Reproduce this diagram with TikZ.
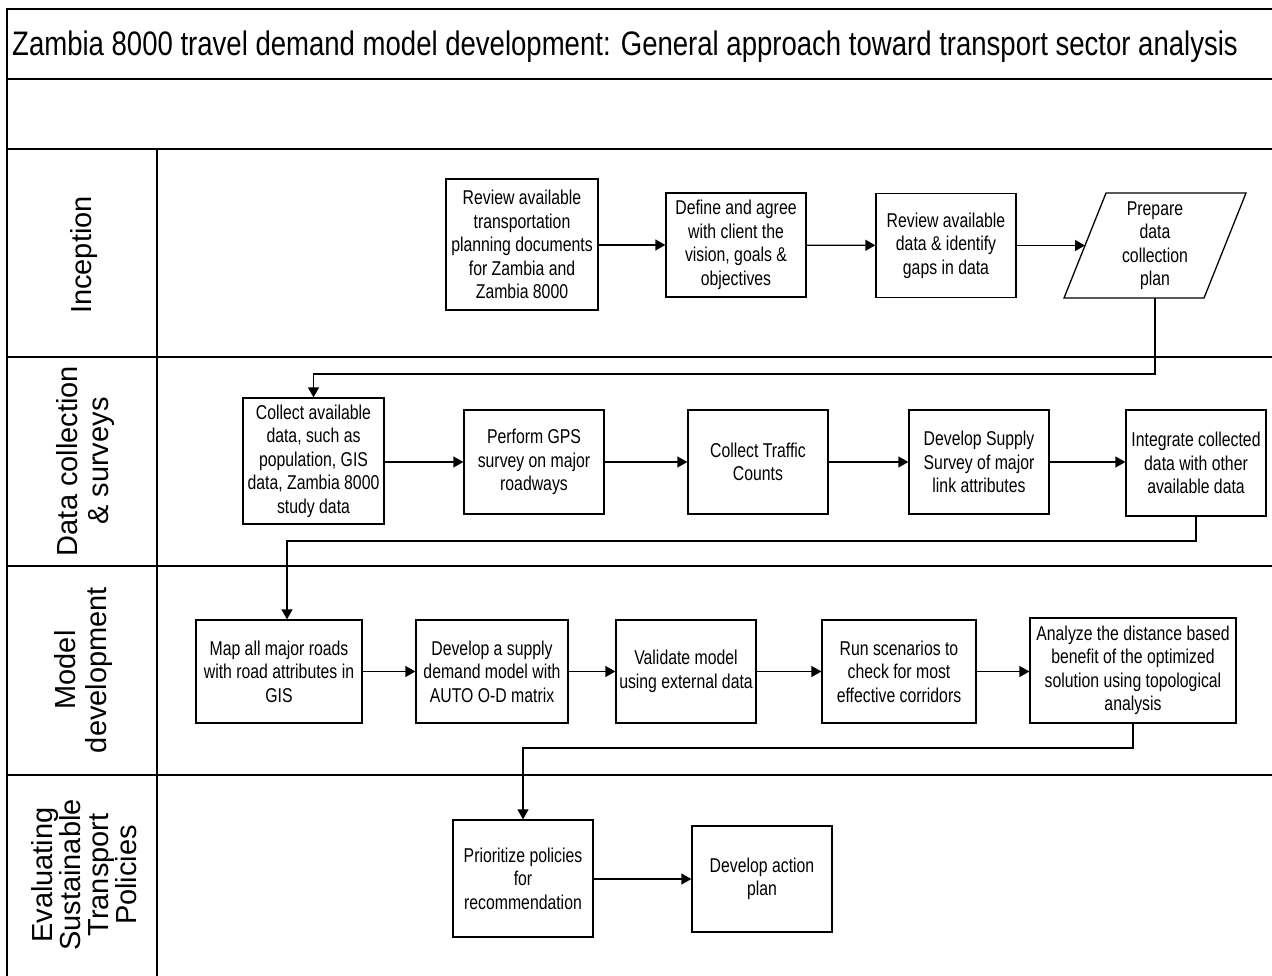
\documentclass[tikz,border=0pt]{standalone}
\usepackage{fontspec}
\setmainfont{Liberation Sans}
\newfontfamily\narrowf[FakeStretch=0.79]{Liberation Sans}
\newfontfamily\titlef[FakeStretch=0.81]{Liberation Sans}
\usetikzlibrary{arrows.meta,calc}
\tikzset{
  box/.style={draw, line width=1.3pt, align=center, inner sep=2pt,
    font=\narrowf\fontsize{20}{23.5}\selectfont},
  arr/.style={line width=1.3pt, -{Triangle[length=10pt,width=11pt]}},
  lane/.style={line width=2pt},
  lanelabel/.style={rotate=90, align=center, font=\fontsize{29}{31}\selectfont},
}
\begin{document}
\begin{tikzpicture}[x=1pt,y=-1pt]
\useasboundingbox (0,0) rectangle (1272,976);
% frame and lanes
\draw[lane] (7,990) -- (7,9) -- (1290,9);
\draw[lane] (7,79) -- (1290,79);
\draw[lane] (7,149) -- (1290,149);
\draw[lane] (7,357) -- (1290,357);
\draw[lane] (7,566) -- (1290,566);
\draw[lane] (7,775) -- (1290,775);
\draw[lane] (157,149) -- (157,990);
% title
\node[anchor=base west, inner sep=0pt, font=\titlef\fontsize{34}{36}\selectfont] (title) at (12,56)
  {Zambia 8000 travel demand model development: General approach toward transport sector analysis};
% lane labels
\node[lanelabel] (l1) at (84,255) {Inception};
\node[lanelabel] (l2) at (86,461) {Data collection\\ \& surveys};
\node[lanelabel] (l3) at (84,670) {Model\\ development};
\node[lanelabel, font=\fontsize{29}{28}\selectfont] (l4) at (84,875) {Evaluating\\ Sustainable\\ Transport\\ Policies};
% Inception
\node[box, minimum width=152, minimum height=131] (b1) at (522,244.5)
  {Review available\\ transportation\\ planning documents\\ for Zambia and\\ Zambia 8000};
\node[box, minimum width=140, minimum height=104] (b2) at (736,245)
  {Define and agree\\ with client the\\ vision, goals \&\\ objectives};
\node[box, minimum width=140, minimum height=104] (b3) at (946,245.5)
  {Review available\\ data \& identify\\ gaps in data};
\node[inner sep=0pt, minimum width=182, minimum height=105, align=center,
  font=\narrowf\fontsize{20}{23.5}\selectfont] (par) at (1155,245.5)
  {Prepare\\ data\\ collection\\ plan};
\draw[line width=1.3pt] (1106,193) -- (1246,193) -- (1204,298) -- (1064,298) -- cycle;
\coordinate (parL) at (1085,245.5);
% Data collection
\node[box, minimum width=141, minimum height=126] (c1) at (313.5,461)
  {Collect available\\ data, such as\\ population, GIS\\ data, Zambia 8000\\ study data};
\node[box, minimum width=140, minimum height=104] (c2) at (534,462)
  {Perform GPS\\ survey on major\\ roadways};
\node[box, minimum width=140, minimum height=104] (c3) at (758,462)
  {Collect Traffic\\ Counts};
\node[box, minimum width=140, minimum height=104] (c4) at (979,462)
  {Develop Supply\\ Survey of major\\ link attributes};
\node[box, minimum width=140, minimum height=106] (c5) at (1196,463)
  {Integrate collected\\ data with other\\ available data};
% Model development
\node[box, minimum width=166, minimum height=103] (m1) at (279,671.5)
  {Map all major roads\\ with road attributes in\\ GIS};
\node[box, minimum width=152, minimum height=103] (m2) at (492,671.5)
  {Develop a supply\\ demand model with\\ AUTO O-D matrix};
\node[box, minimum width=140, minimum height=103] (m3) at (686,671.5)
  {Validate model\\ using external data};
\node[box, minimum width=154, minimum height=103] (m4) at (899,671.5)
  {Run scenarios to\\ check for most\\ effective corridors};
\node[box, minimum width=206, minimum height=105] (m5) at (1133,670.5)
  {Analyze the distance based\\ benefit of the optimized\\ solution using topological\\ analysis};
% Evaluating
\node[box, minimum width=140, minimum height=117] (p1) at (523,878.5)
  {Prioritize policies\\ for\\ recommendation};
\node[box, minimum width=140, minimum height=106] (p2) at (762,879)
  {Develop action\\ plan};
% connectors
\draw[arr] (b1.east |- b2.west) -- (b2.west);
\draw[arr] (b2) -- (b3);
\draw[arr] (b3.east) -- (parL);
\coordinate (j1) at (313.5,374);
\draw[arr] (par.south) |- (j1) -- (c1.north);
\draw[arr] (c1.east |- c2.west) -- (c2.west);
\draw[arr] (c2) -- (c3);
\draw[arr] (c3) -- (c4);
\draw[arr] (c4.east) -- (c4.east -| c5.west);
\coordinate (j2) at (287,541);
\draw[arr] (c5.south) |- (j2) -- (j2 |- m1.north);
\draw[arr] (m1) -- (m2);
\draw[arr] (m2) -- (m3);
\draw[arr] (m3) -- (m4);
\draw[arr] (m4.east) -- (m4.east -| m5.west);
\coordinate (j3) at (523,748);
\draw[arr] (m5.south) |- (j3) -- (p1.north);
\draw[arr] (p1.east |- p2.west) -- (p2.west);
\end{tikzpicture}
\end{document}
